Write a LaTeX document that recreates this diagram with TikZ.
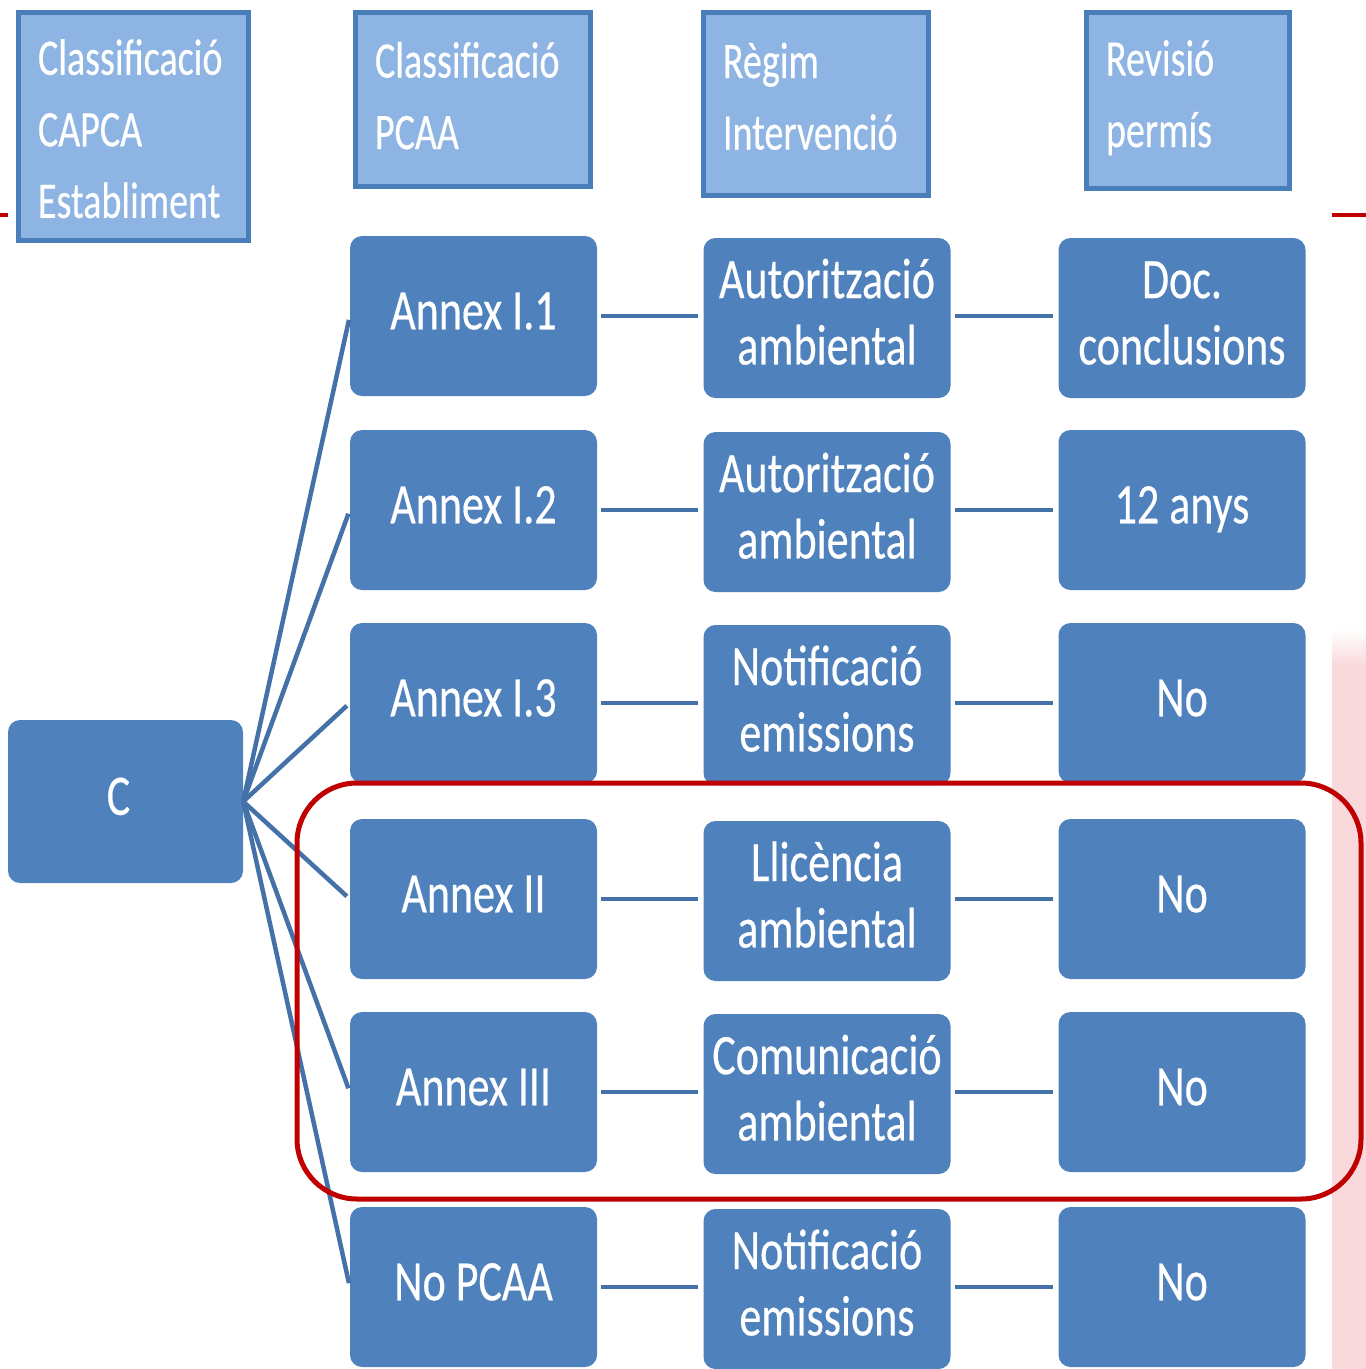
\documentclass[tikz,border=0pt]{standalone}
\usepackage{fontspec}
\setmainfont{Carlito}
\newfontfamily\boxfont[FakeBold=0.4]{Carlito}
\definecolor{boxblue}{HTML}{4F81BD}
\definecolor{hdrfill}{HTML}{8DB4E2}
\definecolor{hdrline}{HTML}{4A7EBB}
\definecolor{linkblue}{HTML}{4472A8}
\definecolor{redline}{HTML}{C00000}
\definecolor{pinkstrip}{HTML}{F9D9DC}
\newcommand{\stxt}[1]{\scalebox{1}[1.3]{\begin{tabular}{@{}c@{}}#1\end{tabular}}}
\newcommand{\htxt}[1]{\scalebox{1}[1.35]{\begin{tabular}{@{}l@{}}#1\end{tabular}}}
\begin{document}
\begin{tikzpicture}[x=1pt,y=-1pt,
  mainbox/.style={fill=boxblue, draw=none, rounded corners=12pt, minimum width=247pt, minimum height=160pt, text=white, inner sep=0pt, font=\boxfont\fontsize{44}{51}\selectfont},
  hdrbox/.style={fill=hdrfill, draw=hdrline, line width=5pt, inner sep=0pt},
  hdrtext/.style={text=white, inner sep=0pt, align=left, font=\boxfont\fontsize{38}{53}\selectfont},
  link/.style={draw=linkblue, line width=4.5pt},
  redmark/.style={draw=redline, line width=5pt},
]
\useasboundingbox (0,0) rectangle (1366,1369);
% pink strip at right
\shade[top color=white, bottom color=pinkstrip] (1332,628) rectangle (1366,666);
\fill[pinkstrip] (1332,665) rectangle (1366,1369);
% red rules
\draw[redmark, line width=4pt] (0,215) -- (8,215);
\draw[redmark, line width=4pt] (1332,215) -- (1366,215);
% headers
\node[hdrbox, minimum width=230pt, minimum height=228pt] (h1) at (133,126) {};
\node[hdrbox, minimum width=235pt, minimum height=174pt] (h2) at (472.5,99) {};
\node[hdrbox, minimum width=225pt, minimum height=183pt] (h3) at (815.5,103.5) {};
\node[hdrbox, minimum width=203pt, minimum height=176pt] (h4) at (1187.5,100) {};
\node[hdrtext, text width=190pt] (h1t) at ([yshift=-6pt]h1.center) {\htxt{Classificació\\CAPCA\\Establiment}};
\node[hdrtext, text width=195pt] (h2t) at (h2.center) {\htxt{Classificació\\PCAA}};
\node[hdrtext, text width=185pt] (h3t) at ([yshift=4pt]h3.center) {\htxt{Règim\\Intervenció}};
\node[hdrtext, text width=163pt] (h4t) at ([yshift=3pt]h4.center) {\htxt{Revisió\\permís}};
% C node
\node[mainbox, minimum width=235pt, minimum height=163pt] (cnode) at (125.5,801.5) {\stxt{C}\hspace*{14pt}};
% column 1
\node[mainbox] (a1) at (473.5,316) {\stxt{Annex I.1}};
\node[mainbox] (a2) at (473.5,510) {\stxt{Annex I.2}};
\node[mainbox] (a3) at (473.5,703) {\stxt{Annex I.3}};
\node[mainbox] (a4) at (473.5,899) {\stxt{Annex II}};
\node[mainbox] (a5) at (473.5,1092) {\stxt{Annex III}};
\node[mainbox] (a6) at (473.5,1287) {\stxt{No PCAA}};
% column 2
\node[mainbox] (b1) at (827,318) {\stxt{Autorització\\ambiental}};
\node[mainbox] (b2) at (827,512) {\stxt{Autorització\\ambiental}};
\node[mainbox] (b3) at (827,705) {\stxt{Notificació\\emissions}};
\node[mainbox] (b4) at (827,901) {\stxt{Llicència\\ambiental}};
\node[mainbox] (b5) at (827,1094) {\stxt{Comunicació\\ambiental}};
\node[mainbox] (b6) at (827,1289) {\stxt{Notificació\\emissions}};
% column 3
\node[mainbox] (c1) at (1182,318) {\stxt{Doc.\\conclusions}};
\node[mainbox] (c2) at (1182,510) {\stxt{12 anys}};
\node[mainbox] (c3) at (1182,703) {\stxt{No}};
\node[mainbox] (c4) at (1182,899) {\stxt{No}};
\node[mainbox] (c5) at (1182,1092) {\stxt{No}};
\node[mainbox] (c6) at (1182,1287) {\stxt{No}};
% connectors
\foreach \i in {1,...,6} {
  \draw[link, shorten >=4pt] (cnode.east) -- (a\i.west);
  \draw[link, shorten <=4pt, shorten >=5pt] (a\i.east) -- (b\i.west |- a\i.east);
  \draw[link, shorten <=4pt, shorten >=5pt] (b\i.east |- a\i.east) -- (c\i.west |- a\i.east);
}
% red rounded frame
\draw[redmark, rounded corners=60pt] (297,783) rectangle (1361,1199);
\end{tikzpicture}
\end{document}
